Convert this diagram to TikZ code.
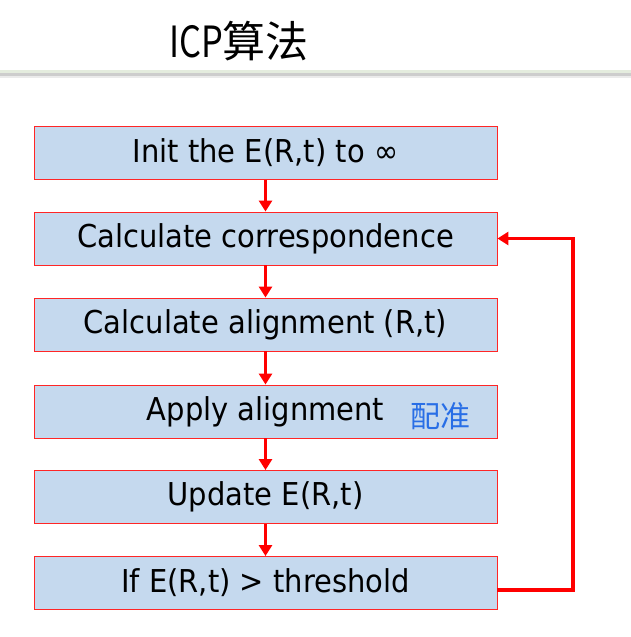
\documentclass[tikz,border=0pt]{standalone}
\usepackage{fontspec}
\setmainfont[FakeStretch=0.92]{DejaVu Sans}
\newfontfamily\cjk{Noto Sans CJK SC}
\newfontfamily\cjkn[FakeStretch=0.8]{Noto Sans CJK SC}
\usetikzlibrary{arrows.meta}
\definecolor{boxblue}{RGB}{197,217,238}
\definecolor{hand}{RGB}{40,110,230}
\definecolor{sep1}{RGB}{228,236,222}
\definecolor{sep2}{RGB}{205,205,205}
\tikzset{
  stepbox/.style={draw=red!85, line width=0.9pt, fill=boxblue, minimum width=463pt, minimum height=53pt, inner sep=0pt, font=\fontsize{31.5}{34}\selectfont},
  flow/.style={draw=red, line width=3.2pt, -{Triangle[length=11pt,width=13pt]}},
}
\begin{document}
\begin{tikzpicture}[x=1pt,y=-1pt]
\useasboundingbox (0,0) rectangle (631,637);
\fill[white] (0,0) rectangle (631,637);
\node[font=\fontsize{43}{46}\selectfont, anchor=center] (title) at (239,41) {\cjkn ICP\cjk 算法};
\fill[sep1] (0,70) rectangle (631,73);
\fill[sep2] (0,73) rectangle (631,76);
\fill[black!8] (0,76) rectangle (631,78);
\node[stepbox] (b1) at (265.5,153) {Init the E(R,t) to ∞};
\node[stepbox] (b2) at (265.5,238.5) {Calculate correspondence};
\node[stepbox] (b3) at (265.5,324.5) {Calculate alignment (R,t)};
\node[stepbox] (b4) at (265.5,411.5) {Apply alignment};
\node[stepbox] (b5) at (265.5,497) {Update E(R,t)};
\node[stepbox] (b6) at (265.5,583) {If E(R,t) > threshold};
\node[text=hand, font=\cjk\fontsize{30}{32}\selectfont] (ann) at (440,416) {配准};
\draw[flow] (b1) -- (b2);
\draw[flow] (b2) -- (b3);
\draw[flow] (b3) -- (b4);
\draw[flow] (b4) -- (b5);
\draw[flow] (b5) -- (b6);
\coordinate (c1) at (573,590);
\coordinate (c2) at (573,238.5);
\draw[flow] (b6.east |- c1) -- (c1) -- (c2) -- (b2.east);
\end{tikzpicture}
\end{document}
